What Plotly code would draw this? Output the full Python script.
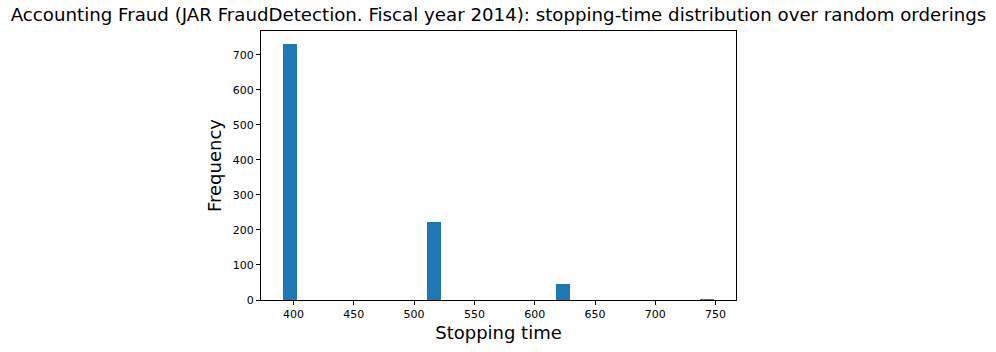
import plotly.graph_objects as go

# Histogram data (30 equal bins between min and max stopping time)
bin_min = 391.0
bin_max = 749.0
n_bins = 30
bin_index = [0, 10, 19, 29]          # non-empty bins
counts = [731, 222, 45, 2]           # frequency in each non-empty bin

x_ticks = [400, 450, 500, 550, 600, 650, 700, 750]
y_ticks = [0, 100, 200, 300, 400, 500, 600, 700]

width = (bin_max - bin_min) / n_bins
centers = [bin_min + (i + 0.5) * width for i in bin_index]

pad = 0.05 * (bin_max - bin_min)
x_range = [bin_min - pad, bin_max + pad]
y_range = [0, max(counts) * 1.05]

fig = go.Figure(go.Bar(
    x=centers, y=counts, width=width,
    marker=dict(color="#1f77b4", line=dict(width=0)),
))

axis_common = dict(
    showline=True, linecolor="black", linewidth=1, mirror=True,
    ticks="outside", ticklen=4, tickwidth=1, tickcolor="black",
    showgrid=False, zeroline=False,
    tickfont=dict(family="DejaVu Sans", size=11, color="black"),
)

fig.update_layout(
    width=996, height=352,
    margin=dict(l=261, r=260, t=31, b=52),
    paper_bgcolor="white", plot_bgcolor="white",
    showlegend=False,
    bargap=0,
    title=dict(
        text="Accounting Fraud (JAR FraudDetection. Fiscal year 2014): stopping-time distribution over random orderings",
        font=dict(family="DejaVu Sans", size=18.2, color="black"),
        x=0.5, xanchor="center", xref="paper",
        y=1 - 15 / 352, yref="container", yanchor="middle",
    ),
    xaxis=dict(
        range=x_range, tickvals=x_ticks,
        title=dict(text="Stopping time", font=dict(family="DejaVu Sans", size=18, color="black"), standoff=6),
        **axis_common,
    ),
    yaxis=dict(
        range=y_range, tickvals=y_ticks,
        title=dict(text="Frequency", font=dict(family="DejaVu Sans", size=18, color="black"), standoff=6),
        **axis_common,
    ),
)

fig.write_html("out.html")
